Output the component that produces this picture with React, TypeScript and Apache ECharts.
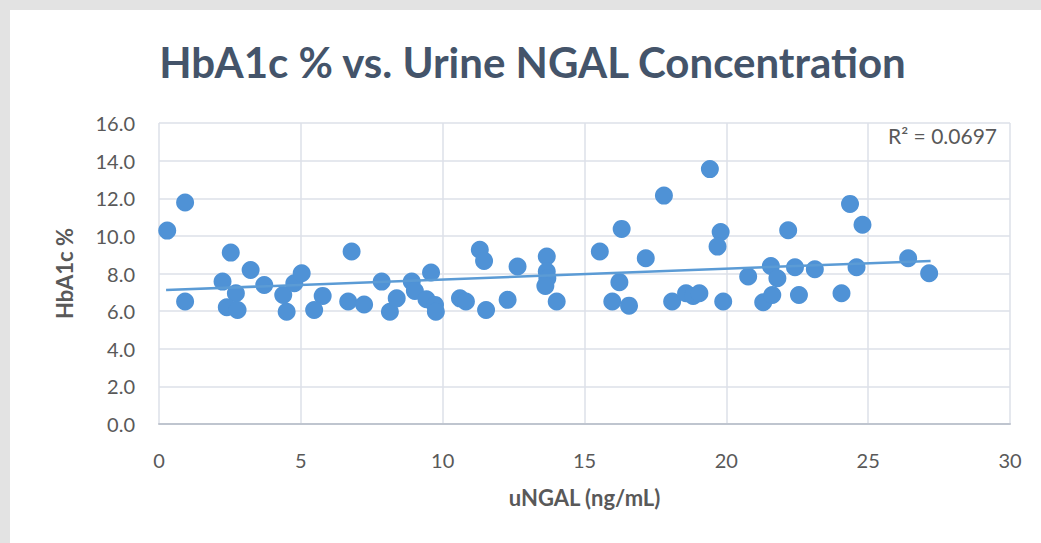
import React, { useEffect, useRef } from "react";
import * as echarts from "echarts";

const uNGAL: number[] = [
  0.29, 0.92, 0.92, 2.53, 2.24, 3.23, 2.71, 2.39, 2.77, 3.71,
  4.38, 4.5, 4.77, 5.03, 5.77, 5.47, 6.79, 6.67, 7.23, 7.85,
  8.14, 8.38, 8.91, 9.02, 9.59, 9.43, 9.73, 9.76, 10.61, 10.82,
  11.31, 11.46, 11.53, 12.64, 12.29, 13.67, 13.67, 13.69, 13.62, 14.02,
  15.54, 16.31, 16.23, 15.98, 16.57, 17.16, 17.8, 18.09, 18.58, 18.83,
  19.05, 19.42, 19.8, 19.69, 19.89, 20.77, 21.57, 21.8, 21.3, 21.62,
  22.18, 22.42, 22.56, 23.12, 24.36, 24.8, 24.59, 24.06, 26.41, 27.15,
];
const hba1c: number[] = [
  10.28, 11.77, 6.51, 9.11, 7.57, 8.19, 6.95, 6.21, 6.06, 7.39,
  6.86, 5.97, 7.48, 8.01, 6.81, 6.06, 9.17, 6.51, 6.35, 7.57,
  5.97, 6.68, 7.57, 7.07, 8.05, 6.63, 6.33, 5.97, 6.68, 6.51,
  9.26, 8.67, 6.06, 8.37, 6.6, 8.9, 8.1, 7.75, 7.34, 6.51,
  9.17, 10.37, 7.54, 6.51, 6.29, 8.81, 12.14, 6.51, 6.95, 6.81,
  6.95, 13.55, 10.2, 9.43, 6.51, 7.84, 8.4, 7.75, 6.47, 6.86,
  10.3, 8.33, 6.86, 8.23, 11.7, 10.59, 8.33, 6.95, 8.81, 8.01,
];
// Trendline endpoints
const trendX: number[] = [0.25, 27.2];
const trendY: number[] = [7.12, 8.67];

const titleText = "HbA1c % vs. Urine NGAL Concentration";
const xName = "uNGAL (ng/mL)";
const yName = "HbA1c %";
const r2Label = "R² = 0.0697";

export default function App() {
  const ref = useRef<HTMLDivElement>(null);
  useEffect(() => {
    if (!ref.current) return;
    const chart = echarts.init(ref.current, undefined, { renderer: "svg" });
    const font = "Lato, 'Open Sans', sans-serif";
    const points = uNGAL.map((x, i) => [x, hba1c[i]]);
    const trend = trendX.map((x, i) => [x, trendY[i]]);
    chart.setOption({
      animation: false,
      backgroundColor: "#ffffff",
      grid: { left: 149, right: 31, top: 113, bottom: 119, containLabel: false },
      xAxis: {
        type: "value",
        min: 0,
        max: 30,
        interval: 5,
        name: xName,
        nameLocation: "middle",
        nameGap: 62,
        nameTextStyle: { fontFamily: font, fontWeight: "bold", fontSize: 22, color: "#595959" },
        axisLine: { show: true, lineStyle: { color: "#bfc5cf", width: 2 } },
        axisTick: { show: false },
        axisLabel: { fontFamily: font, fontSize: 20, color: "#595959", margin: 26 },
        splitLine: { show: true, lineStyle: { color: "#dde1e8", width: 1.5 } },
      },
      yAxis: {
        type: "value",
        min: 0,
        max: 16,
        interval: 2,
        name: yName,
        nameLocation: "middle",
        nameGap: 84,
        nameTextStyle: { fontFamily: font, fontWeight: "bold", fontSize: 22, color: "#595959" },
        axisLine: { show: false },
        axisTick: { show: false },
        axisLabel: {
          fontFamily: font,
          fontSize: 20,
          color: "#595959",
          margin: 24,
          formatter: (v: number) => v.toFixed(1),
        },
        splitLine: { show: true, lineStyle: { color: "#dde1e8", width: 1.5 } },
      },
      graphic: [
        {
          type: "text",
          x: 522.5,
          y: 52,
          style: {
            text: titleText,
            fontFamily: font,
            fontWeight: "bold",
            fontSize: 42,
            fill: "#44546a",
            align: "center",
            verticalAlign: "middle",
          },
        },
        {
          type: "text",
          x: 987,
          y: 125,
          style: {
            text: r2Label,
            fontFamily: font,
            fontSize: 21,
            fill: "#595959",
            align: "right",
            verticalAlign: "middle",
          },
        },
      ],
      series: [
        {
          type: "scatter",
          data: points,
          symbol: "circle",
          symbolSize: 18,
          itemStyle: { color: "#4f92d6", opacity: 1 },
          z: 3,
        },
        {
          type: "line",
          data: trend,
          symbol: "none",
          lineStyle: { color: "#5b9bd5", width: 2.5 },
          z: 4,
        },
      ],
    });
    return () => chart.dispose();
  }, []);
  return (
    <div
      style={{
        position: "fixed",
        left: 0,
        top: 0,
        width: 1041,
        height: 543,
        background: "#e3e3e3",
      }}
    >
      <div
        ref={ref}
        style={{ position: "absolute", left: 10, top: 10, width: 1031, height: 533, background: "#fff" }}
      />
    </div>
  );
}
